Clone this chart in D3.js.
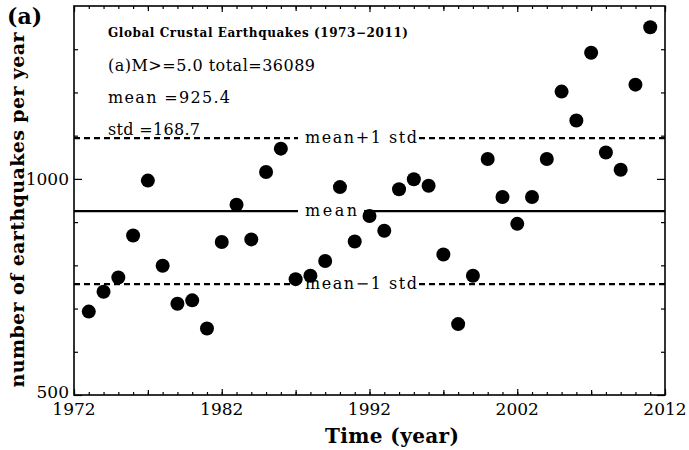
<!DOCTYPE html>
<html>
<head>
<meta charset="utf-8">
<script src="https://cdn.jsdelivr.net/npm/d3@7"></script>
<style>
  html, body { margin: 0; padding: 0; background: #fff; }
  svg { display: block; }
  text { fill: #000; }
</style>
</head>
<body>
<svg id="chart" width="689" height="450"></svg>
<script>
// Yearly counts of crustal earthquakes, M >= 5.0
const years = [1973, 1974, 1975, 1976, 1977, 1978, 1979, 1980, 1981, 1982,
               1983, 1984, 1985, 1986, 1987, 1988, 1989, 1990, 1991, 1992,
               1993, 1994, 1995, 1996, 1997, 1998, 1999, 2000, 2001, 2002,
               2003, 2004, 2005, 2006, 2007, 2008, 2009, 2010, 2011];
const counts = [693, 739, 772, 869, 996, 799, 711, 719, 654, 854,
                940, 860, 1016, 1070, 768, 776, 810, 981, 855, 914,
                880, 976, 999, 984, 825, 664, 776, 1046, 958, 896,
                958, 1046, 1202, 1135, 1292, 1061, 1021, 1218, 1351];

// Summary statistics printed in the panel
const meanValue = 925.4;
const stdValue = 168.7;
const totalCount = 36089;

// Axis ticks
const xMinorTicks = [1972, 1973, 1974, 1975, 1976, 1977, 1978, 1979, 1980, 1981,
                     1982, 1983, 1984, 1985, 1986, 1987, 1988, 1989, 1990, 1991,
                     1992, 1993, 1994, 1995, 1996, 1997, 1998, 1999, 2000, 2001,
                     2002, 2003, 2004, 2005, 2006, 2007, 2008, 2009, 2010, 2011, 2012];
const xMidTicks = [1977, 1987, 1997, 2007];
const xLabelTicks = [1972, 1982, 1992, 2002, 2012];
const yMinorTicks = [600, 700, 800, 900, 1100, 1200, 1300];
const yLabelTicks = [500, 1000];

const svg = d3.select("#chart");
const plotLeft = 74, plotRight = 665, plotTop = 6, plotBottom = 395;
const serif = "'DejaVu Serif', 'Liberation Serif', serif";

const x = d3.scaleLinear().domain([1972, 2012]).range([plotLeft, plotRight]);
const y = d3.scaleLinear().domain([500, 1400]).range([plotBottom, plotTop]);

// Ticks pointing inward on all four sides
function tickAxis(gen, tr, vals, size) {
  const g = svg.append("g").attr("transform", tr)
    .call(gen.tickValues(vals).tickSize(size).tickFormat(""));
  g.select(".domain").remove();
  g.selectAll("line").attr("stroke", "#000").attr("stroke-width", 1.2);
  return g;
}
tickAxis(d3.axisBottom(x), `translate(0,${plotBottom})`, xMinorTicks, -3);
tickAxis(d3.axisBottom(x), `translate(0,${plotBottom})`, xMidTicks, -5);
tickAxis(d3.axisBottom(x), `translate(0,${plotBottom})`, xLabelTicks, -6);
tickAxis(d3.axisTop(x), `translate(0,${plotTop})`, xMinorTicks, -3);
tickAxis(d3.axisTop(x), `translate(0,${plotTop})`, xMidTicks, -5);
tickAxis(d3.axisTop(x), `translate(0,${plotTop})`, xLabelTicks, -6);
tickAxis(d3.axisLeft(y), `translate(${plotLeft},0)`, yMinorTicks, -4);
tickAxis(d3.axisLeft(y), `translate(${plotLeft},0)`, yLabelTicks, -8);
tickAxis(d3.axisRight(y), `translate(${plotRight},0)`, yMinorTicks, -4);
tickAxis(d3.axisRight(y), `translate(${plotRight},0)`, yLabelTicks, -8);

// Tick labels
svg.append("g").selectAll("text").data(xLabelTicks).join("text")
  .attr("x", d => x(d)).attr("y", 415)
  .attr("text-anchor", "middle")
  .style("font-family", serif).style("font-size", "17px")
  .text(d => d);
svg.append("g").selectAll("text").data(yLabelTicks).join("text")
  .attr("x", plotLeft - 5).attr("y", d => d === 500 ? y(d) + 3 : y(d) + 6)
  .attr("text-anchor", "end")
  .style("font-family", serif).style("font-size", "17px")
  .text(d => d);

// Frame
svg.append("rect")
  .attr("x", plotLeft).attr("y", plotTop)
  .attr("width", plotRight - plotLeft).attr("height", plotBottom - plotTop)
  .attr("fill", "none").attr("stroke", "#000").attr("stroke-width", 1.6);

// Reference lines with inline labels
const refLines = [
  { value: meanValue + stdValue, label: "mean+1 std", dash: "6,4", gapStart: 298, gapEnd: 419 },
  { value: meanValue, label: "mean", dash: null, gapStart: 298, gapEnd: 364 },
  { value: meanValue - stdValue, label: "mean\u22121 std", dash: "6,4", gapStart: 298, gapEnd: 419 }
];
const refG = svg.append("g");
refLines.forEach(r => {
  const yy = y(r.value);
  [[plotLeft, r.gapStart], [r.gapEnd, plotRight]].forEach(([a, b]) => {
    refG.append("line")
      .attr("x1", a).attr("x2", b).attr("y1", yy).attr("y2", yy)
      .attr("stroke", "#000").attr("stroke-width", 2.2)
      .attr("stroke-dasharray", r.dash);
  });
  refG.append("text")
    .attr("x", 305).attr("y", yy + 5)
    .style("font-family", serif).style("font-size", "16px")
    .attr("textLength", r.label === "mean" ? 52 : 112)
    .attr("lengthAdjust", "spacing")
    .text(r.label);
});

// Yearly counts
svg.append("g").selectAll("circle").data(years).join("circle")
  .attr("cx", (d, i) => x(d))
  .attr("cy", (d, i) => y(counts[i]))
  .attr("r", 7)
  .attr("fill", "#000");

// Panel annotations
const ann = svg.append("g").style("font-family", serif);
ann.append("text").attr("x", 108).attr("y", 37)
  .style("font-size", "12px").style("font-weight", "bold")
  .attr("textLength", 300).attr("lengthAdjust", "spacing")
  .text("Global Crustal Earthquakes (1973\u22122011)");
ann.append("text").attr("x", 108).attr("y", 71)
  .style("font-size", "16px")
  .attr("textLength", 207).attr("lengthAdjust", "spacing")
  .text(`(a)M>=5.0 total=${totalCount}`);
ann.append("text").attr("x", 108).attr("y", 103)
  .style("font-size", "16px")
  .attr("textLength", 122).attr("lengthAdjust", "spacing")
  .text(`mean =${meanValue}`);
ann.append("text").attr("x", 108).attr("y", 135)
  .style("font-size", "16px")
  .attr("textLength", 92).attr("lengthAdjust", "spacing")
  .text(`std =${stdValue}`);

// Panel tag
svg.append("text").attr("x", 7).attr("y", 24)
  .style("font-family", serif).style("font-size", "22px").style("font-weight", "bold")
  .text("(a)");

// Axis titles
svg.append("text")
  .attr("x", 392).attr("y", 443)
  .attr("text-anchor", "middle")
  .style("font-family", serif).style("font-size", "20px").style("font-weight", "bold")
  .attr("textLength", 134).attr("lengthAdjust", "spacing")
  .text("Time (year)");
svg.append("text")
  .attr("transform", "translate(24,210) rotate(-90)")
  .attr("text-anchor", "middle")
  .style("font-family", serif).style("font-size", "19px").style("font-weight", "bold")
  .attr("textLength", 355).attr("lengthAdjust", "spacing")
  .text("number of earthquakes per year");
</script>
</body>
</html>
